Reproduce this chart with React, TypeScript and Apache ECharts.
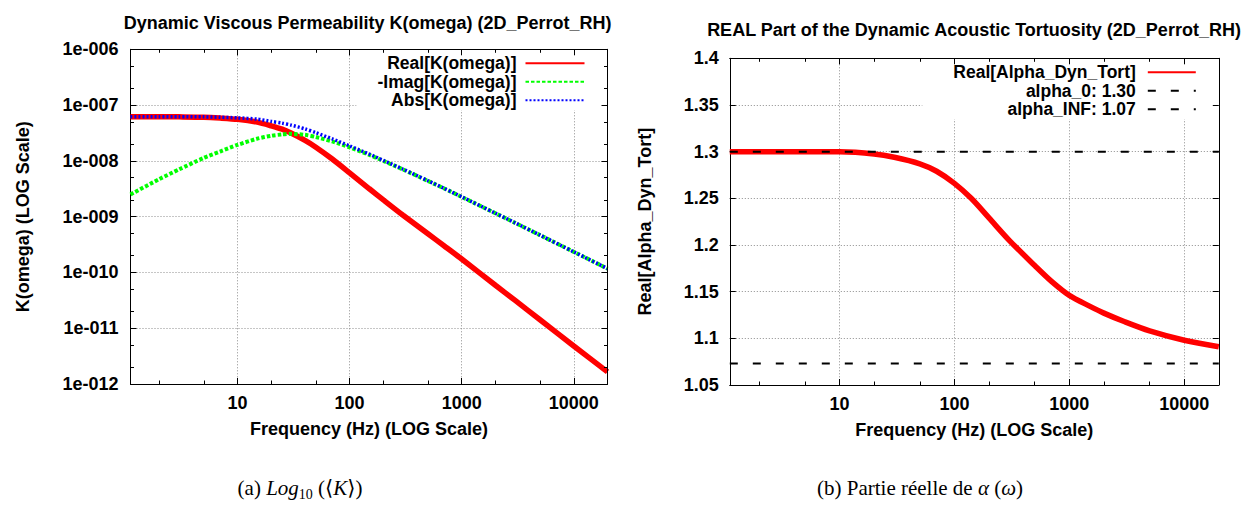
import React, { useEffect, useRef } from 'react';
import * as echarts from 'echarts';

// ---------- data ----------
const F_MIN = 1.11;
const F_MAX = 20000;

const FREQ_K = [1.11, 2, 3, 5, 7, 10, 15, 20, 25, 30, 40, 50, 70, 100, 150, 200, 300, 500, 700, 1000, 2000, 3000, 5000, 10000, 20000];
const K_REAL = [6.2e-8, 6.2e-8, 6.15e-8, 6.05e-8, 5.85e-8, 5.56e-8, 4.95e-8, 4.25e-8, 3.7e-8, 3.15e-8, 2.33e-8, 1.76e-8, 1.08e-8, 6.1e-9, 3.16e-9, 2.0e-9, 1.06e-9, 4.93e-10, 2.98e-10, 1.74e-10, 5.9e-11, 3.15e-11, 1.42e-11, 4.8e-12, 1.65e-12];
const K_IMAG = [2.5e-9, 4.7e-9, 7.0e-9, 1.13e-8, 1.47e-8, 1.93e-8, 2.5e-8, 2.82e-8, 2.98e-8, 3.05e-8, 2.93e-8, 2.68e-8, 2.23e-8, 1.75e-8, 1.28e-8, 1.0e-8, 7.0e-9, 4.37e-9, 3.19e-9, 2.26e-9, 1.15e-9, 7.73e-10, 4.66e-10, 2.34e-10, 1.17e-10];
const K_ABS = [6.2e-8, 6.2e-8, 6.2e-8, 6.15e-8, 6.05e-8, 5.9e-8, 5.6e-8, 5.1e-8, 4.75e-8, 4.38e-8, 3.74e-8, 3.2e-8, 2.48e-8, 1.85e-8, 1.32e-8, 1.02e-8, 7.08e-9, 4.4e-9, 3.2e-9, 2.27e-9, 1.15e-9, 7.74e-10, 4.66e-10, 2.34e-10, 1.17e-10];

const FREQ_A = [1.11, 3, 10, 20, 30, 50, 70, 100, 140, 200, 300, 500, 700, 1000, 1500, 2000, 3000, 5000, 10000, 20000];
const ALPHA_REAL = [1.3, 1.3, 1.2998, 1.2975, 1.294, 1.287, 1.279, 1.266, 1.25, 1.229, 1.205, 1.178, 1.161, 1.146, 1.1345, 1.127, 1.118, 1.108, 1.098, 1.091];
const ALPHA_0 = 1.3;
const ALPHA_INF = 1.073;

const X_MINOR = [2, 5, 20, 50, 200, 500, 2000, 5000];
const K_MIN = 1e-12;
const K_MAX = 1e-6;
const K_MINOR = [2e-12, 5e-12, 2e-11, 5e-11, 2e-10, 5e-10, 2e-9, 5e-9, 2e-8, 5e-8, 2e-7, 5e-7];
const A_MIN = 1.05;
const A_MAX = 1.4;
const A_STEP = 0.05;

const NAMES_K = ['Real[K(omega)]', '-Imag[K(omega)]', 'Abs[K(omega)]'];
const NAMES_A = ['Real[Alpha_Dyn_Tort]', 'alpha_0: 1.30', 'alpha_INF: 1.07'];

const TITLE_K = 'Dynamic Viscous Permeability K(omega) (2D_Perrot_RH)';
const TITLE_A = 'REAL Part of the Dynamic Acoustic Tortuosity (2D_Perrot_RH)';
const X_NAME = 'Frequency (Hz) (LOG Scale)';
const Y_NAME_K = 'K(omega) (LOG Scale)';
const Y_NAME_A = 'Real[Alpha_Dyn_Tort]';

// ---------- styles ----------
const FONT = '"Liberation Sans", Arial, Helvetica, sans-serif';
const SERIF = '"Liberation Serif", "DejaVu Serif", serif';
const FS = 18;
const CAP_FS = 21;

const G0 = { left: 130.5, top: 49.3, width: 477, height: 334.7 };
const G1 = { left: 729.8, top: 58.3, width: 489, height: 326.7 };

const lbl = { fontFamily: FONT, fontWeight: 'bold' as const, fontSize: FS, color: '#000' };
const border = { show: true, onZero: false, lineStyle: { color: '#000', width: 1 } };
const majorTick = { show: true, inside: true, length: 6, lineStyle: { color: '#000', width: 1 } };
const minorTick = { show: true, inside: true, length: 3.5, lineStyle: { color: '#000', width: 1 } };
const gridLine = { show: true, lineStyle: { color: '#8c8c8c', width: 1, type: [1, 2] } };
const off = { show: false };

const LMIN = Math.log10(F_MIN);
const LMAX = Math.log10(F_MAX);

function xAxesFor(gridIndex: number) {
  return [
    {
      type: 'log', logBase: 10, gridIndex, position: 'bottom', min: F_MIN, max: F_MAX,
      axisLine: border, axisTick: majorTick,
      axisLabel: { ...lbl, margin: 10, showMinLabel: false, showMaxLabel: false, formatter: (v: number) => String(Math.round(v)) },
      splitLine: gridLine,
      name: X_NAME, nameLocation: 'middle', nameGap: 36, nameTextStyle: lbl,
    },
    {
      type: 'value', gridIndex, position: 'bottom', min: LMIN, max: LMAX,
      axisLine: off, axisLabel: off, splitLine: off,
      axisTick: { ...minorTick, customValues: X_MINOR.map((v) => Math.log10(v)) },
    },
    {
      type: 'log', logBase: 10, gridIndex, position: 'top', min: F_MIN, max: F_MAX, z: 10,
      axisLine: border, axisTick: majorTick, axisLabel: off, splitLine: off,
    },
    {
      type: 'value', gridIndex, position: 'top', min: LMIN, max: LMAX, z: 10,
      axisLine: off, axisLabel: off, splitLine: off,
      axisTick: { ...minorTick, customValues: X_MINOR.map((v) => Math.log10(v)) },
    },
  ];
}

const kExp = (v: number) => '1e-' + String(Math.abs(Math.round(v))).padStart(3, '0');
const KLMIN = Math.log10(K_MIN);
const KLMAX = Math.log10(K_MAX);

const yAxes = [
  {
    type: 'value', gridIndex: 0, position: 'left', min: KLMIN, max: KLMAX, interval: 1,
    axisLine: border, axisTick: majorTick,
    axisLabel: { ...lbl, margin: 12, formatter: kExp },
    splitLine: gridLine,
    name: Y_NAME_K, nameLocation: 'middle', nameGap: 99, nameRotate: 90, nameTextStyle: lbl,
  },
  {
    type: 'value', gridIndex: 0, position: 'left', min: KLMIN, max: KLMAX,
    axisLine: off, axisLabel: off, splitLine: off,
    axisTick: { ...minorTick, customValues: K_MINOR.map((v) => Math.log10(v)) },
  },
  {
    type: 'value', gridIndex: 0, position: 'right', min: KLMIN, max: KLMAX, interval: 1, z: 10,
    axisLine: border, axisTick: majorTick, axisLabel: off, splitLine: off,
  },
  {
    type: 'value', gridIndex: 0, position: 'right', min: KLMIN, max: KLMAX, z: 10,
    axisLine: off, axisLabel: off, splitLine: off,
    axisTick: { ...minorTick, customValues: K_MINOR.map((v) => Math.log10(v)) },
  },
  {
    type: 'value', gridIndex: 1, position: 'left', min: A_MIN, max: A_MAX, interval: A_STEP,
    axisLine: border, axisTick: majorTick,
    axisLabel: { ...lbl, margin: 11, formatter: (v: number) => String(Number(v.toFixed(2))) },
    splitLine: gridLine,
    name: Y_NAME_A, nameLocation: 'middle', nameGap: 76, nameRotate: 90, nameTextStyle: lbl,
  },
  {
    type: 'value', gridIndex: 1, position: 'right', min: A_MIN, max: A_MAX, interval: A_STEP, z: 10,
    axisLine: border, axisTick: majorTick, axisLabel: off, splitLine: off,
  },
];

function lineSeries(name: string, xi: number, yi: number, data: number[][], lineStyle: any, smooth: number) {
  return {
    name, type: 'line', xAxisIndex: xi, yAxisIndex: yi, data,
    symbol: 'none', showSymbol: false, smooth,
    lineStyle: { cap: 'butt', ...lineStyle },
    itemStyle: { color: lineStyle.color },
    emphasis: { disabled: true },
  };
}

const kData = (vals: number[]) => FREQ_K.map((f, i) => [f, Math.log10(vals[i])]);

const series = [
  lineSeries(NAMES_K[0], 0, 0, kData(K_REAL), { color: '#ff0000', width: 5.5 }, 0.25),
  lineSeries(NAMES_K[1], 0, 0, kData(K_IMAG), { color: '#00ff00', width: 4, type: [3.5, 2] }, 0.25),
  lineSeries(NAMES_K[2], 0, 0, kData(K_ABS), { color: '#0000ff', width: 3.5, type: [2, 2] }, 0.25),
  lineSeries(NAMES_A[0], 4, 4, FREQ_A.map((f, i) => [f, ALPHA_REAL[i]]), { color: '#ff0000', width: 5.5 }, 0.3),
  lineSeries(NAMES_A[1], 4, 4, [[F_MIN, ALPHA_0], [F_MAX, ALPHA_0]], { color: '#000', width: 2, type: [8, 15] }, 0),
  lineSeries(NAMES_A[2], 4, 4, [[F_MIN, ALPHA_INF], [F_MAX, ALPHA_INF]], { color: '#000', width: 2, type: [8, 15] }, 0),
];

const legendBase = {
  orient: 'vertical', align: 'right', backgroundColor: '#fff', selectedMode: false,
  itemHeight: 18, itemGap: 0.5, itemStyle: { opacity: 0 },
  textStyle: { ...lbl, fontSize: 17.5 },
};

const capRich = {
  n: { fontFamily: SERIF, fontSize: CAP_FS, lineHeight: 26, fill: '#000' },
  i: { fontFamily: SERIF, fontSize: CAP_FS, lineHeight: 26, fontStyle: 'italic', fill: '#000' },
  s: { fontFamily: SERIF, fontSize: 14, lineHeight: 18, verticalAlign: 'bottom', fill: '#000' },
};

const option: any = {
  animation: false,
  backgroundColor: '#fff',
  grid: [
    { ...G0, containLabel: false, outerBoundsMode: 'none' },
    { ...G1, containLabel: false, outerBoundsMode: 'none' },
  ],
  xAxis: [...xAxesFor(0), ...xAxesFor(1)],
  yAxis: yAxes,
  legend: [
    {
      ...legendBase, data: NAMES_K, right: 1246 - (G0.left + G0.width) + 1, top: G0.top + 1,
      padding: [4, 21, 1, 21], itemWidth: 59,
      textStyle: { ...legendBase.textStyle, padding: [0, 4, 0, 0] },
    },
    {
      ...legendBase, data: NAMES_A, right: 1246 - (G1.left + G1.width) + 1, top: G1.top + 1,
      padding: [4, 21, 1, 31], itemWidth: 48,
      textStyle: { ...legendBase.textStyle, padding: [0, 7, 0, 0] },
    },
  ],
  series,
  graphic: [
    { type: 'text', x: 367.6, y: 22.5, style: { text: TITLE_K, align: 'center', verticalAlign: 'middle', font: `bold ${FS}px ${FONT}`, fill: '#000' } },
    { type: 'text', x: 974, y: 30, style: { text: TITLE_A, align: 'center', verticalAlign: 'middle', font: `bold ${FS}px ${FONT}`, fill: '#000' } },
    {
      type: 'text', x: 300, y: 488,
      style: { text: '{n|(a) }{i|Log}{s|10}{n| (⟨}{i|K}{n|⟩)}', align: 'center', verticalAlign: 'middle', rich: capRich },
    },
    {
      type: 'text', x: 920, y: 488,
      style: { text: '{n|(b) Partie réelle de }{i|α}{n| (}{i|ω}{n|)}', align: 'center', verticalAlign: 'middle', rich: capRich },
    },
  ],
};

export default function App() {
  const ref = useRef<HTMLDivElement>(null);
  useEffect(() => {
    if (!ref.current) return;
    const chart = echarts.init(ref.current, null, { renderer: 'svg' });
    chart.setOption(option);
    return () => chart.dispose();
  }, []);
  return (
    <>
      <style>{'body{margin:0}'}</style>
      <div ref={ref} style={{ width: 1246, height: 507 }} />
    </>
  );
}
